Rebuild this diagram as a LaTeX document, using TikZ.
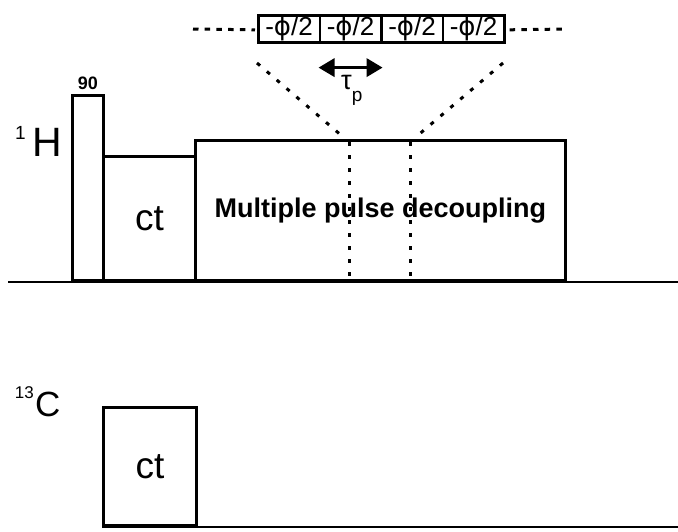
\documentclass[tikz,border=0pt]{standalone}
\usepackage{fontspec}
\setmainfont{Liberation Sans}
\newfontfamily\phifont{DejaVu Sans}
\usetikzlibrary{arrows.meta}

\begin{document}
\begin{tikzpicture}[x=1pt,y=-1pt]
  % pulse sequence laid out in pixel units, y running downwards
  \useasboundingbox (0,0) rectangle (678,531);
  \tikzset{pulse/.style={draw,line width=2.8pt,inner sep=0pt,anchor=south west},
           cell/.style={draw,line width=2.6pt,inner sep=0pt,anchor=north west,
             minimum width=61.5pt,minimum height=27pt,font=\fontsize{26}{26}\selectfont},
           axis/.style={line width=2.8pt},
           dots/.style={line width=3pt,dash pattern=on 4pt off 9pt},
           dashes/.style={line width=3pt,dash pattern=on 5.5pt off 6.2pt},
           nucleus/.style={inner sep=0pt,font=\fontsize{41}{41}\selectfont},
           mass/.style={inner sep=0pt,font=\fontsize{19}{19}\selectfont}}

  % 1H channel
  \draw[axis] (8,282) -- (678,282);
  \node[pulse,minimum width=31pt,minimum height=185pt] (p90) at (71,282) {};
  \node[pulse,minimum width=92pt,minimum height=124pt,font=\fontsize{37}{37}\selectfont] (ctH) at (102,282) {ct};
  \node[pulse,minimum width=370pt,minimum height=140pt,font=\fontsize{27}{27}\selectfont\bfseries] (mpd) at (194,282) {Multiple pulse decoupling};
  \node[inner sep=0pt,anchor=south,font=\fontsize{18}{18}\selectfont\bfseries] (lbl90) at ([yshift=4pt]p90.north) {90};
  \node[nucleus,anchor=base west] (lblH) at (32,156) {H};
  \node[mass,anchor=north east] (supH) at ([xshift=-6pt,yshift=1pt]lblH.north west) {1};
  \coordinate (v1top) at (349,142);
  \coordinate (v1bot) at (349,282);
  \coordinate (v2top) at (410,142);
  \coordinate (v2bot) at (410,282);
  \draw[dots] (v1top) -- (v1bot);
  \draw[dots] (v2top) -- (v2bot);

  % expanded view of the decoupling cycle
  \foreach \i in {0,...,3}
    \node[cell] (c\i) at ({257+61.5*\i},14) {-{\phifont ϕ}/2};
  \coordinate (dashL) at (193,29);
  \coordinate (dashR) at (567,29);
  \draw[dashes] (dashL) -- ([xshift=-2pt,yshift=-1pt]c0.west);
  \draw[dashes] ([xshift=4pt,yshift=-1pt]c3.east) -- (dashR);
  \draw[line width=3.4pt,{Triangle[length=16pt,width=18pt]}-{Triangle[length=16pt,width=18pt]}]
    ([yshift=-24pt]c1.south west) -- ([yshift=-24pt]c1.south east);
  \node[inner sep=0pt,anchor=base west,font=\fontsize{27}{27}\selectfont] (tau) at (341,89)
    {τ\raisebox{-12pt}{\fontsize{19}{19}\selectfont p}};
  \coordinate (zoomL) at (257,63);
  \coordinate (zoomR) at (503,63);
  \draw[dots,shorten >=13pt] (zoomL) -- (v1top);
  \draw[dots,shorten >=13pt] (zoomR) -- (v2top);

  % 13C channel
  \draw[axis] (102,527) -- (678,527);
  \node[pulse,minimum width=93pt,minimum height=118pt,font=\fontsize{37}{37}\selectfont] (ctC) at (102,527) {ct};
  \node[nucleus,anchor=base west,font=\fontsize{35}{35}\selectfont] (lblC) at (35,416) {C};
  \node[mass,anchor=north east,font=\fontsize{17}{17}\selectfont] (supC) at ([xshift=-1pt,yshift=5pt]lblC.north west) {13};
\end{tikzpicture}
\end{document}
